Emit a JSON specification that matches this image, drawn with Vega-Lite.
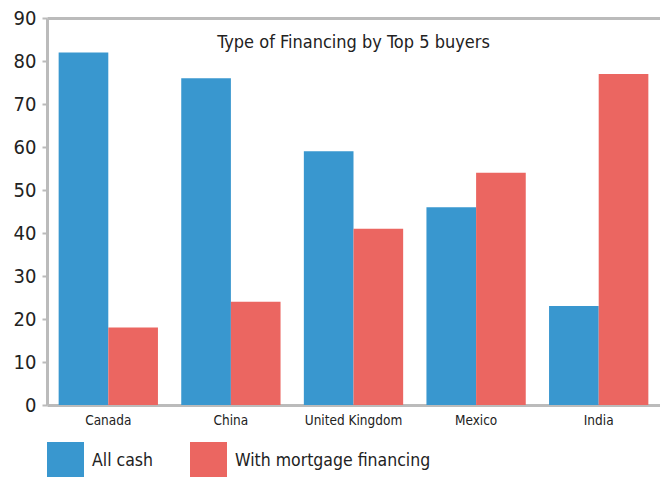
{
  "$schema": "https://vega.github.io/schema/vega-lite/v6.json",
  "width": 613,
  "height": 387,
  "autosize": {"type": "none"},
  "padding": {"left": 47, "top": 18, "right": 0, "bottom": 72},
  "background": "white",
  "view": {"stroke": "transparent"},
  "config": {
    "view": {"stroke": "transparent"},
    "font": "DejaVu Sans Condensed, sans-serif"
  },
  "title": {
    "text": "Type of Financing by Top 5 buyers",
    "anchor": "middle",
    "offset": -44,
    "fontSize": 18,
    "fontWeight": "normal",
    "color": "#222222",
    "font": "DejaVu Sans Condensed, sans-serif"
  },
  "data": {
    "values": [
      {"country": "Canada", "type": "All cash", "value": 82},
      {"country": "Canada", "type": "With mortgage financing", "value": 18},
      {"country": "China", "type": "All cash", "value": 76},
      {"country": "China", "type": "With mortgage financing", "value": 24},
      {"country": "United Kingdom", "type": "All cash", "value": 59},
      {"country": "United Kingdom", "type": "With mortgage financing", "value": 41},
      {"country": "Mexico", "type": "All cash", "value": 46},
      {"country": "Mexico", "type": "With mortgage financing", "value": 54},
      {"country": "India", "type": "All cash", "value": 23},
      {"country": "India", "type": "With mortgage financing", "value": 77}
    ]
  },
  "mark": {"type": "bar"},
  "encoding": {
    "x": {
      "field": "country",
      "type": "nominal",
      "sort": null,
      "scale": {"paddingInner": 0.19, "paddingOuter": 0.095},
      "axis": {
        "title": null,
        "labelAngle": 0,
        "labelFontSize": 13.5,
        "labelColor": "#222222",
        "labelPadding": 8,
        "ticks": false,
        "domainColor": "#BBBBBB",
        "domainWidth": 3,
        "grid": false
      }
    },
    "xOffset": {"field": "type", "type": "nominal", "scale": {"paddingInner": 0, "paddingOuter": 0}},
    "y": {
      "field": "value",
      "type": "quantitative",
      "scale": {"domain": [0, 90], "nice": false},
      "axis": {
        "title": null,
        "values": [0, 10, 20, 30, 40, 50, 60, 70, 80, 90],
        "labelFontSize": 20,
        "labelColor": "#222222",
        "labelPadding": 6,
        "tickSize": 5,
        "tickWidth": 2,
        "tickColor": "#BBBBBB",
        "domainColor": "#BBBBBB",
        "domainWidth": 3,
        "grid": true,
        "gridWidth": 3,
        "gridColor": {"condition": {"test": "datum.value === 90", "value": "#BBBBBB"}, "value": "transparent"}
      }
    },
    "color": {
      "field": "type",
      "type": "nominal",
      "scale": {"domain": ["All cash", "With mortgage financing"], "range": ["#3997CF", "#EB6661"]},
      "legend": {
        "title": null,
        "orient": "none",
        "legendX": 0,
        "legendY": 424,
        "direction": "horizontal",
        "symbolType": "square",
        "symbolSize": 1369,
        "symbolStrokeWidth": 0,
        "labelFontSize": 17.5,
        "labelColor": "#222222",
        "labelOffset": 8,
        "columnPadding": 36,
        "labelLimit": 400
      }
    }
  }
}
